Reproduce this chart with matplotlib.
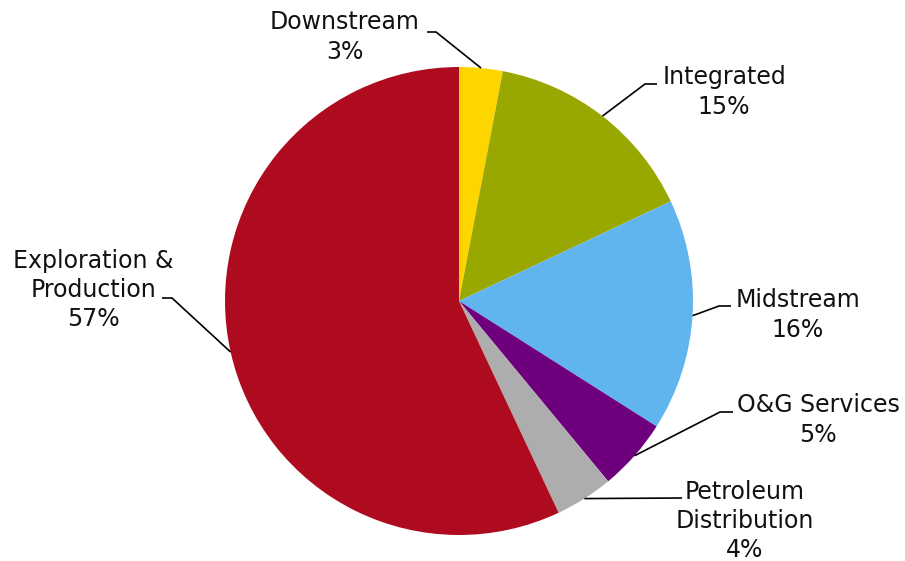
import matplotlib
matplotlib.use("Agg")
import matplotlib.pyplot as plt
import numpy as np

categories = ["Downstream", "Integrated", "Midstream", "O&G Services",
              "Petroleum\nDistribution", "Exploration &\nProduction"]
values = [3, 15, 16, 5, 4, 57]
colors = ["#FFD500", "#99A800", "#61B5EE", "#6E007E", "#ADADAD", "#AE0C1E"]

W, H = 905, 561
fig = plt.figure(figsize=(W / 100, H / 100), dpi=100)
ax = fig.add_axes([0, 0, 1, 1])

cx, cy, R = 459, H - 301, 234
wedges, _ = ax.pie(values, colors=colors, startangle=90, counterclock=False,
                   center=(cx, cy), radius=R, frame=True,
                   wedgeprops=dict(linewidth=0))
ax.set_xlim(0, W)
ax.set_ylim(0, H)
ax.set_aspect("equal")
ax.axis("off")

# label layout (pixel coords, y from top): elbow point, end of leader, text center
layout = [
    ((436, 32), (427, 32), (345, 37)),
    ((645, 84), (657, 84), (724, 92)),
    ((719, 306), (731, 306), (798, 315)),
    ((720, 412), (733, 412), (818, 420)),
    ((682, 498), (682, 498), (745, 521)),
    ((172, 298), (162, 298), (93, 290)),
]

for w, cat, val, (elbow, end, tc) in zip(wedges, categories, values, layout):
    ang = np.deg2rad((w.theta1 + w.theta2) / 2)
    ex, ey = cx + R * np.cos(ang), cy + R * np.sin(ang)
    xs = [ex, elbow[0], end[0]]
    ys = [ey, H - elbow[1], H - end[1]]
    ax.plot(xs, ys, color="black", lw=1.2, solid_capstyle="butt")
    ax.text(tc[0], H - tc[1], f"{cat}\n{val}%", ha="center", va="center",
            fontsize=17, linespacing=1.27, color="#111111",
            family="DejaVu Sans")

fig.savefig("out.png", dpi=100)
